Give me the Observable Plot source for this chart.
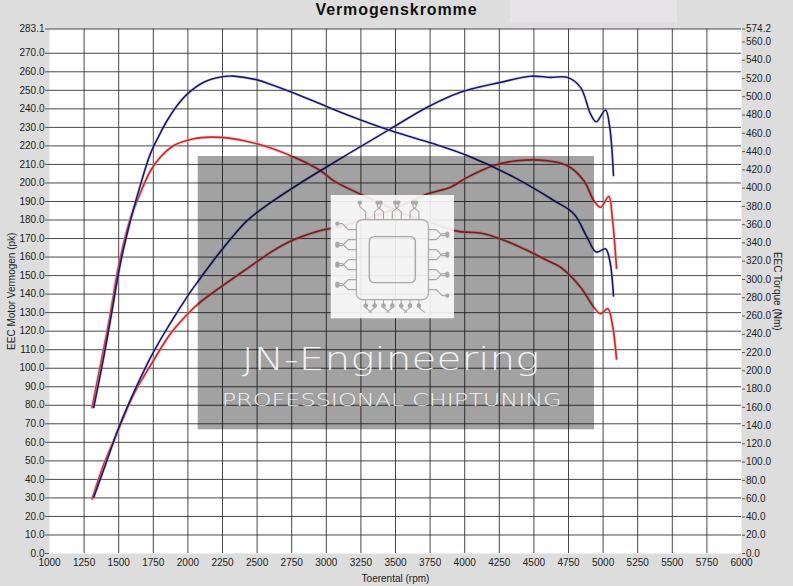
<!DOCTYPE html>
<html><head><meta charset="utf-8">
<script src="https://cdn.jsdelivr.net/npm/d3@7"></script>
<script src="https://cdn.jsdelivr.net/npm/@observablehq/plot@0.6"></script>
<style>
html,body{margin:0;padding:0}
body{background:#dddddd;width:793px;height:586px;overflow:hidden;position:relative;font-family:"Liberation Sans",Arial,sans-serif}
#patch{position:absolute;left:510px;top:0;width:167px;height:22px;background:#e6e4e6}
#title{position:relative;height:22px;line-height:19px;font-weight:bold;font-size:16px;letter-spacing:0.9px;text-align:center;color:#111}
#chart svg{display:block}
</style></head>
<body>
<div id="patch"></div>
<div id="title">Vermogenskromme</div>
<div id="chart"></div>
<script>
// ---- data ----
const rpmTicks = [1000,1250,1500,1750,2000,2250,2500,2750,3000,3250,3500,3750,4000,4250,4500,4750,5000,5250,5500,5750,6000];
const powerTicks = [0,10,20,30,40,50,60,70,80,90,100,110,120,130,140,150,160,170,180,190,200,210,220,230,240,250,260,270,283.1];
const torqueTicks = [0,20,40,60,80,100,120,140,160,180,200,220,240,260,280,300,320,340,360,380,400,420,440,460,480,500,520,540,560,574.2];

// tuned (blue) torque, Nm
const tunedTorqueRpm = [1320,1392,1441,1513,1585,1650,1730,1800,1850,1925,1995,2115,2250,2330,2500,2600,2750,2960,3163,3464,3777,4018,4355,4644,4788,4885,4950,5017,5048,5075];
const tunedTorqueNm  = [160,215,256,318,364.6,400,438,460,474,491,503,516,522,522.6,518.5,513.5,505,492,479.5,463,448.5,435.7,412,386.5,372,346,330,333.6,320.8,282];
// stock (red) torque, Nm
const stockTorqueRpm = [1308,1380,1430,1500,1575,1634,1730,1802,1898,2043,2163,2284,2500,2765,2958,3054,3295,3536,3777,3946,4138,4379,4596,4692,4837,4933,4981,5034,5066,5097];
const stockTorqueNm  = [160,215,254,315,362,386.5,419,434,446.7,454,455.8,455,448.5,434,419,408,390,373.7,361,352.9,350,337,320.8,313.4,291.5,269.6,262.4,268,251.5,213];
// tuned (blue) power, pk
const tunedPowerRpm = [1320,1400,1501,1634,1750,2000,2079,2250,2428,2600,2813,3054,3247,3464,3729,3970,4259,4476,4620,4740,4837,4909,4950,5017,5048,5075];
const tunedPowerPk  = [30.4,47,68,91,108.6,139.2,147.5,164.4,179.7,189.5,200,211,219.6,229.2,240.9,249,254.3,257.6,257,257,251.6,237.3,233,239.4,230,204];
// stock (red) power, pk
const stockPowerRpm = [1308,1392,1465,1500,1609,1750,1874,2000,2079,2250,2500,2597,2741,2958,3102,3247,3488,3729,3897,4018,4210,4379,4596,4740,4860,4933,4981,5041,5066,5097];
const stockPowerPk  = [29.5,48,61,67.3,86,104,118.6,129.4,135,144.5,157.5,162.5,168.5,174.3,176.5,179.7,186,194,197.7,203,209.4,212,212,209.4,201.3,190.5,186.9,192.7,181.5,154];

// ---- build tables ----
const k = 283.1 / 574.2; // torque -> power-axis units
const tbl = (rpm, vals, f) => rpm.map((r, i) => ({rpm: r, v: vals[i] * f}));
const tunedTorque = tbl(tunedTorqueRpm, tunedTorqueNm, k);
const stockTorque = tbl(stockTorqueRpm, stockTorqueNm, k);
const tunedPower = tbl(tunedPowerRpm, tunedPowerPk, 1);
const stockPower = tbl(stockPowerRpm, stockPowerPk, 1);

const BLUE = "#18186c", RED = "#c52b2b";
const curve = "catmull-rom";
const lineMarks = (data, color, halo, op) => [
  Plot.line(data, {x: "rpm", y: "v", stroke: halo, strokeWidth: 3.4, strokeOpacity: op, curve}),
  Plot.line(data, {x: "rpm", y: "v", stroke: color, strokeWidth: 1.6, curve})
];

const plot = Plot.plot({
  width: 793, height: 564,
  marginLeft: 49, marginRight: 52, marginTop: 6.5, marginBottom: 33,
  style: {background: "transparent", fontFamily: "Liberation Sans, Arial, sans-serif", fontSize: "10px", color: "#222", overflow: "visible"},
  x: {domain: [1000, 6000]},
  y: {domain: [0, 283.1]},
  marks: [
    Plot.frame({fill: "white", stroke: null}),
    Plot.ruleX(rpmTicks.filter(d => d > 1000 && d < 6000), {stroke: "#333", strokeWidth: 0.9}),
    Plot.ruleY(powerTicks.filter(d => d > 0), {stroke: "#333", strokeWidth: 0.9}),
    Plot.axisY(powerTicks, {anchor: "left", tickSize: 4, tickPadding: 1, tickFormat: d => d.toFixed(1), label: null, stroke: "#555"}),
    Plot.axisY(torqueTicks.map(t => t * k), {anchor: "right", tickSize: 3, tickPadding: 1.5, tickFormat: d => (d / k).toFixed(1), label: null, stroke: "#555"}),
    Plot.axisX(rpmTicks, {anchor: "bottom", tickSize: 0, tickPadding: 5, tickFormat: d => String(d), label: null}),
    Plot.text(["EEC Motor Vermogen (pk)"], {frameAnchor: "left", dx: -38, rotate: -90, textAnchor: "middle", lineAnchor: "middle", fontSize: 10, fill: "#222"}),
    Plot.text(["EEC Torque (Nm)"], {frameAnchor: "right", dx: 36, rotate: 90, textAnchor: "middle", lineAnchor: "middle", fontSize: 10, fill: "#222"}),
    Plot.text(["Toerental (rpm)"], {frameAnchor: "bottom", dy: 25, textAnchor: "middle", lineAnchor: "middle", fontSize: 10, fill: "#222"}),
    ...lineMarks(stockPower, RED, "#f2a0a0", 0.5),
    ...lineMarks(stockTorque, RED, "#f2a0a0", 0.5),
    ...lineMarks(tunedPower, BLUE, "#a8a8dc", 0.3),
    ...lineMarks(tunedTorque, BLUE, "#a8a8dc", 0.3)
  ]
});
document.getElementById("chart").appendChild(plot);

// ---- watermark overlay (decoration) ----
const svg = d3.select(plot);
const wm = svg.append("g").attr("text-anchor", "start");
wm.append("rect").attr("x", 197.7).attr("y", 134).attr("width", 396.3).attr("height", 273.3)
  .attr("fill", "#000").attr("fill-opacity", 0.365);
// logo square
const L = {x: 330.7, y: 173, w: 123.3, h: 123.3};
wm.append("rect").attr("x", L.x).attr("y", L.y).attr("width", L.w).attr("height", L.h)
  .attr("fill", "#fff").attr("fill-opacity", 0.88);
const lg = wm.append("g").attr("stroke", "#a8a8a8").attr("fill", "none").attr("stroke-width", 1.1);
const cx = L.x + L.w / 2, cy = L.y + L.h / 2 + 3;
lg.append("rect").attr("x", cx - 36).attr("y", cy - 40).attr("width", 72).attr("height", 80).attr("rx", 6);
lg.append("rect").attr("x", cx - 23).attr("y", cy - 23).attr("width", 46).attr("height", 46).attr("rx", 5).attr("stroke-width", 1.4);
const n = 7;
for (let i = 0; i < n; i++) {
  const t = (i + 0.5) / n - 0.5;
  const yy = cy + t * 70;
  const bendL = (i % 2 ? 6 : -6), bendR = (i % 2 ? -6 : 6);
  lg.append("path").attr("d", `M${cx - 36},${yy} h-8 l-6,${bendL} h-4`);
  lg.append("circle").attr("cx", cx - 55).attr("cy", yy + bendL).attr("r", 1.6).attr("fill", "#a8a8a8");
  lg.append("path").attr("d", `M${cx + 36},${yy} h8 l6,${bendR} h4`);
  lg.append("circle").attr("cx", cx + 55).attr("cy", yy + bendR).attr("r", 1.6).attr("fill", "#a8a8a8");
  const xx = cx + t * 62;
  lg.append("path").attr("d", `M${xx},${cy - 40} v-8 l${bendL},-5 v-3`);
  lg.append("circle").attr("cx", xx + bendL).attr("cy", cy - 57).attr("r", 1.6).attr("fill", "#a8a8a8");
  lg.append("path").attr("d", `M${xx},${cy + 40} v8 l${bendR},5`);
  lg.append("circle").attr("cx", xx).attr("cy", cy + 46).attr("r", 1.8).attr("fill", "#a8a8a8");
}
wm.append("text").attr("x", 241.7).attr("y", 348).attr("text-anchor", "start").attr("textLength", 298).attr("lengthAdjust", "spacingAndGlyphs")
  .attr("font-family", "DejaVu Sans, Lato, sans-serif").attr("font-weight", 200).attr("font-size", 32)
  .attr("fill", "#fff").attr("fill-opacity", 0.88).text("JN-Engineering");
wm.append("text").attr("x", 221.7).attr("y", 384).attr("text-anchor", "start").attr("textLength", 340).attr("lengthAdjust", "spacingAndGlyphs")
  .attr("font-family", "DejaVu Sans, Lato, sans-serif").attr("font-weight", 200).attr("font-size", 18)
  .attr("fill", "#fff").attr("fill-opacity", 0.88).text("PROFESSIONAL CHIPTUNING");
</script>
</body></html>
